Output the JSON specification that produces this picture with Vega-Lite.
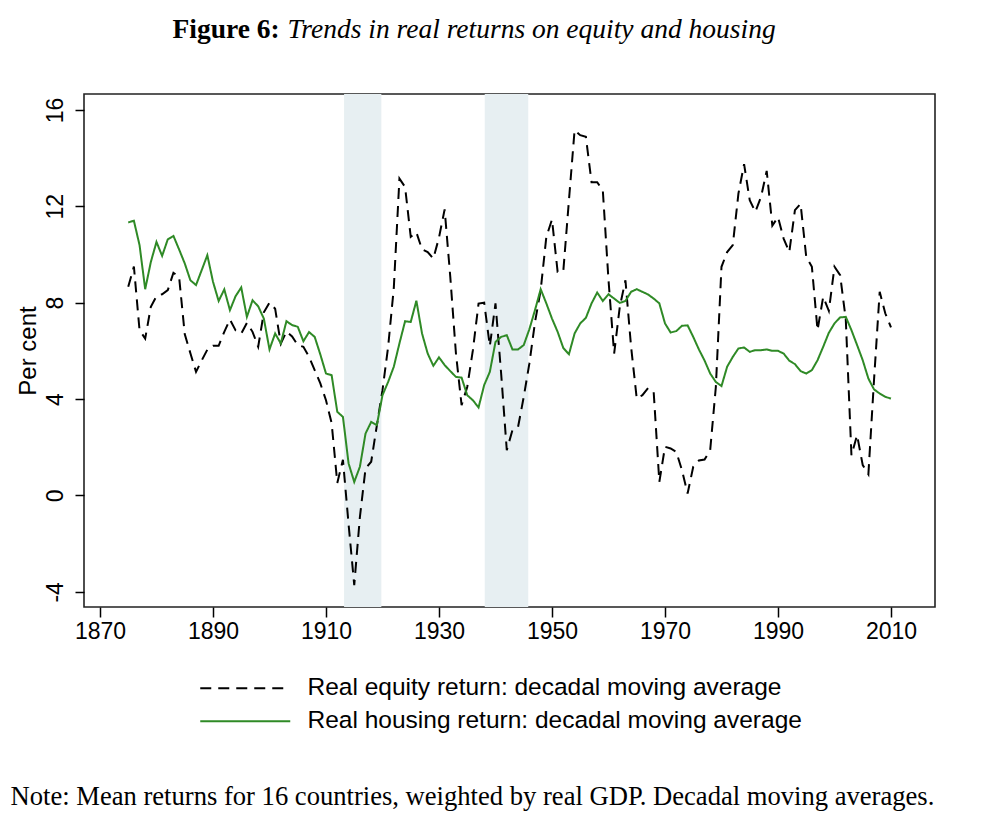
{
  "$schema": "https://vega.github.io/schema/vega-lite/v6.json",
  "autosize": {"type": "none"},
  "width": 851,
  "height": 513,
  "padding": {"left": 84, "top": 94, "right": 65, "bottom": 214},
  "background": "#ffffff",
  "config": {
    "view": {"stroke": "#222222", "strokeWidth": 1.6},
    "axis": {"grid": false, "domain": false}
  },
  "resolve": {"axis": {"x": "independent", "y": "independent"}},
  "layer": [
    {
      "data": {"values": [
        {"start": 1913.2, "end": 1919.8},
        {"start": 1938.1, "end": 1945.8}
      ]},
      "mark": {"type": "rect", "color": "#e7eff2"},
      "encoding": {
        "x": {"field": "start", "type": "quantitative",
          "scale": {"domain": [1867.17, 2017.79], "nice": false, "zero": false},
          "axis": {"orient": "top", "labels": false, "ticks": false, "domain": false,
            "title": "Trends in real returns on equity and housing",
            "titleFont": "Liberation Serif", "titleFontSize": 27.5, "titleFontStyle": "italic",
            "titleFontWeight": "normal", "titleColor": "#000000",
            "titleX": 203, "titleY": -57, "titleAngle": 0, "titleAlign": "left", "titleBaseline": "alphabetic"}},
        "x2": {"field": "end"}
      }
    },
    {
      "mark": {"type": "rule", "color": "#808080", "strokeWidth": 1.6, "strokeDash": [5, 3.5]},
      "encoding": {
        "y": {"datum": 0, "type": "quantitative",
          "scale": {"domain": [-4.63, 16.66], "nice": false, "zero": false},
          "axis": {"orient": "right", "labels": false, "ticks": false, "domain": false,
            "title": "Figure 6:",
            "titleFont": "Liberation Serif", "titleFontSize": 27.5, "titleFontWeight": "bold",
            "titleColor": "#000000",
            "titleX": -763, "titleY": -57, "titleAngle": 0, "titleAlign": "left", "titleBaseline": "alphabetic"}}
      }
    },
    {
      "data": {"values": [
        {"year": 1875, "equity": 8.66, "housing": 11.33},
        {"year": 1876, "equity": 9.5, "housing": 11.4},
        {"year": 1877, "equity": 6.86, "housing": 10.39},
        {"year": 1878, "equity": 6.51, "housing": 8.56},
        {"year": 1879, "equity": 7.83, "housing": 9.69},
        {"year": 1880, "equity": 8.27, "housing": 10.52},
        {"year": 1881, "equity": 8.35, "housing": 9.94},
        {"year": 1882, "equity": 8.52, "housing": 10.63},
        {"year": 1883, "equity": 9.24, "housing": 10.77},
        {"year": 1884, "equity": 9.07, "housing": 10.21},
        {"year": 1885, "equity": 6.7, "housing": 9.63},
        {"year": 1886, "equity": 5.9, "housing": 8.93},
        {"year": 1887, "equity": 5.13, "housing": 8.73},
        {"year": 1888, "equity": 5.6, "housing": 9.35},
        {"year": 1889, "equity": 6.05, "housing": 9.97},
        {"year": 1890, "equity": 6.21, "housing": 8.87},
        {"year": 1891, "equity": 6.21, "housing": 8.07},
        {"year": 1892, "equity": 6.79, "housing": 8.55},
        {"year": 1893, "equity": 7.3, "housing": 7.69},
        {"year": 1894, "equity": 6.85, "housing": 8.27},
        {"year": 1895, "equity": 6.72, "housing": 8.63},
        {"year": 1896, "equity": 7.16, "housing": 7.41},
        {"year": 1897, "equity": 6.79, "housing": 8.1},
        {"year": 1898, "equity": 6.17, "housing": 7.85},
        {"year": 1899, "equity": 7.6, "housing": 7.34},
        {"year": 1900, "equity": 8.0, "housing": 6.06},
        {"year": 1901, "equity": 7.75, "housing": 6.72},
        {"year": 1902, "equity": 6.3, "housing": 6.31},
        {"year": 1903, "equity": 6.8, "housing": 7.23},
        {"year": 1904, "equity": 6.6, "housing": 7.07},
        {"year": 1905, "equity": 6.24, "housing": 7.0},
        {"year": 1906, "equity": 6.17, "housing": 6.4},
        {"year": 1907, "equity": 5.75, "housing": 6.78},
        {"year": 1908, "equity": 5.2, "housing": 6.58},
        {"year": 1909, "equity": 4.65, "housing": 5.85},
        {"year": 1910, "equity": 3.95, "housing": 5.06},
        {"year": 1911, "equity": 3.0, "housing": 4.99},
        {"year": 1912, "equity": 0.52, "housing": 3.47},
        {"year": 1913, "equity": 1.48, "housing": 3.26},
        {"year": 1914, "equity": -1.2, "housing": 1.33},
        {"year": 1915, "equity": -3.72, "housing": 0.56},
        {"year": 1916, "equity": -0.9, "housing": 1.19},
        {"year": 1917, "equity": 1.12, "housing": 2.57},
        {"year": 1918, "equity": 1.4, "housing": 3.05},
        {"year": 1919, "equity": 2.9, "housing": 2.92},
        {"year": 1920, "equity": 4.37, "housing": 4.16},
        {"year": 1921, "equity": 6.17, "housing": 4.71},
        {"year": 1922, "equity": 8.6, "housing": 5.34},
        {"year": 1923, "equity": 13.15, "housing": 6.31},
        {"year": 1924, "equity": 12.8, "housing": 7.23},
        {"year": 1925, "equity": 10.73, "housing": 7.2},
        {"year": 1926, "equity": 10.92, "housing": 8.08},
        {"year": 1927, "equity": 10.21, "housing": 6.72},
        {"year": 1928, "equity": 10.1, "housing": 5.89},
        {"year": 1929, "equity": 9.83, "housing": 5.38},
        {"year": 1930, "equity": 10.7, "housing": 5.73},
        {"year": 1931, "equity": 11.87, "housing": 5.41},
        {"year": 1932, "equity": 9.07, "housing": 5.16},
        {"year": 1933, "equity": 5.89, "housing": 4.92},
        {"year": 1934, "equity": 3.75, "housing": 4.89},
        {"year": 1935, "equity": 4.5, "housing": 4.16},
        {"year": 1936, "equity": 6.03, "housing": 3.95},
        {"year": 1937, "equity": 7.96, "housing": 3.65},
        {"year": 1938, "equity": 8.0, "housing": 4.58},
        {"year": 1939, "equity": 6.2, "housing": 5.13},
        {"year": 1940, "equity": 7.97, "housing": 6.37},
        {"year": 1941, "equity": 5.06, "housing": 6.58},
        {"year": 1942, "equity": 1.88, "housing": 6.65},
        {"year": 1943, "equity": 2.71, "housing": 6.06},
        {"year": 1944, "equity": 2.85, "housing": 6.06},
        {"year": 1945, "equity": 4.09, "housing": 6.24},
        {"year": 1946, "equity": 5.48, "housing": 6.9},
        {"year": 1947, "equity": 7.2, "housing": 7.7},
        {"year": 1948, "equity": 8.52, "housing": 8.56},
        {"year": 1949, "equity": 10.73, "housing": 7.97},
        {"year": 1950, "equity": 11.45, "housing": 7.34},
        {"year": 1951, "equity": 9.28, "housing": 6.79},
        {"year": 1952, "equity": 9.3, "housing": 6.12},
        {"year": 1953, "equity": 12.25, "housing": 5.86},
        {"year": 1954, "equity": 15.16, "housing": 6.72},
        {"year": 1955, "equity": 14.95, "housing": 7.14},
        {"year": 1956, "equity": 14.88, "housing": 7.37},
        {"year": 1957, "equity": 13.0, "housing": 7.97},
        {"year": 1958, "equity": 13.0, "housing": 8.42},
        {"year": 1959, "equity": 12.65, "housing": 8.07},
        {"year": 1960, "equity": 8.95, "housing": 8.35},
        {"year": 1961, "equity": 5.89, "housing": 8.17},
        {"year": 1962, "equity": 7.83, "housing": 7.99},
        {"year": 1963, "equity": 8.93, "housing": 8.07},
        {"year": 1964, "equity": 6.17, "housing": 8.45},
        {"year": 1965, "equity": 4.02, "housing": 8.56},
        {"year": 1966, "equity": 4.16, "housing": 8.45},
        {"year": 1967, "equity": 4.45, "housing": 8.34},
        {"year": 1968, "equity": 4.29, "housing": 8.17},
        {"year": 1969, "equity": 0.56, "housing": 7.97},
        {"year": 1970, "equity": 2.02, "housing": 7.14},
        {"year": 1971, "equity": 1.95, "housing": 6.76},
        {"year": 1972, "equity": 1.81, "housing": 6.82},
        {"year": 1973, "equity": 1.05, "housing": 7.04},
        {"year": 1974, "equity": 0.08, "housing": 7.06},
        {"year": 1975, "equity": 1.19, "housing": 6.58},
        {"year": 1976, "equity": 1.45, "housing": 6.06},
        {"year": 1977, "equity": 1.49, "housing": 5.6},
        {"year": 1978, "equity": 1.88, "housing": 5.06},
        {"year": 1979, "equity": 4.5, "housing": 4.71},
        {"year": 1980, "equity": 9.49, "housing": 4.54},
        {"year": 1981, "equity": 10.1, "housing": 5.34},
        {"year": 1982, "equity": 10.39, "housing": 5.75},
        {"year": 1983, "equity": 12.53, "housing": 6.1},
        {"year": 1984, "equity": 13.75, "housing": 6.14},
        {"year": 1985, "equity": 12.25, "housing": 5.96},
        {"year": 1986, "equity": 11.77, "housing": 6.03},
        {"year": 1987, "equity": 12.39, "housing": 6.03},
        {"year": 1988, "equity": 13.47, "housing": 6.06},
        {"year": 1989, "equity": 11.2, "housing": 6.0},
        {"year": 1990, "equity": 11.55, "housing": 6.0},
        {"year": 1991, "equity": 10.66, "housing": 5.89},
        {"year": 1992, "equity": 10.1, "housing": 5.59},
        {"year": 1993, "equity": 11.84, "housing": 5.45},
        {"year": 1994, "equity": 12.1, "housing": 5.16},
        {"year": 1995, "equity": 9.9, "housing": 5.06},
        {"year": 1996, "equity": 9.49, "housing": 5.2},
        {"year": 1997, "equity": 6.86, "housing": 5.61},
        {"year": 1998, "equity": 8.24, "housing": 6.17},
        {"year": 1999, "equity": 7.66, "housing": 6.75},
        {"year": 2000, "equity": 9.49, "housing": 7.14},
        {"year": 2001, "equity": 9.14, "housing": 7.39},
        {"year": 2002, "equity": 7.3, "housing": 7.41},
        {"year": 2003, "equity": 1.67, "housing": 6.86},
        {"year": 2004, "equity": 2.5, "housing": 6.24},
        {"year": 2005, "equity": 1.26, "housing": 5.61},
        {"year": 2006, "equity": 0.88, "housing": 4.85},
        {"year": 2007, "equity": 4.8, "housing": 4.4},
        {"year": 2008, "equity": 8.45, "housing": 4.23},
        {"year": 2009, "equity": 7.55, "housing": 4.09},
        {"year": 2010, "equity": 6.97, "housing": 4.02}
      ]},
      "transform": [{"fold": ["equity", "housing"], "as": ["series", "value"]}],
      "mark": {"type": "line", "strokeWidth": 2},
      "encoding": {
        "x": {"field": "year", "type": "quantitative",
          "scale": {"domain": [1867.17, 2017.79], "nice": false, "zero": false},
          "axis": {"orient": "bottom", "values": [1870, 1890, 1910, 1930, 1950, 1970, 1990, 2010],
            "format": "d", "labelFlush": false, "labelOverlap": false,
            "tickSize": 10, "tickWidth": 1.5, "tickColor": "#000000",
            "labelFont": "Liberation Sans", "labelFontSize": 23, "labelColor": "#000000",
            "labelBaseline": "alphabetic", "labelPadding": 21,
            "title": "Note: Mean returns for 16 countries, weighted by real GDP. Decadal moving averages.",
            "titleFont": "Liberation Serif", "titleFontSize": 26.6, "titleFontWeight": "normal",
            "titleColor": "#000000", "titleX": -74, "titleY": 197, "titleAngle": 0,
            "titleAlign": "left", "titleBaseline": "alphabetic"}},
        "y": {"field": "value", "type": "quantitative",
          "scale": {"domain": [-4.63, 16.66], "nice": false, "zero": false},
          "axis": {"orient": "left", "values": [-4, 0, 4, 8, 12, 16],
            "labelExpr": "'' + datum.value",
            "labelFlush": false, "labelOverlap": false,
            "tickSize": 9, "tickWidth": 1.5, "tickColor": "#000000",
            "labelFont": "Liberation Sans", "labelFontSize": 23, "labelColor": "#000000",
            "labelAngle": -90, "labelAlign": "center", "labelBaseline": "alphabetic", "labelPadding": 13,
            "title": "Per cent", "titleFont": "Liberation Sans", "titleFontSize": 24,
            "titleFontWeight": "normal", "titleColor": "#000000",
            "titleX": -49, "titleY": 256.5, "titleAngle": -90, "titleAlign": "center", "titleBaseline": "alphabetic"}},
        "color": {"field": "series", "type": "nominal",
          "scale": {"domain": ["equity", "housing"], "range": ["#000000", "#2f8a26"]},
          "legend": {"orient": "none", "legendX": 149, "legendY": 582, "direction": "vertical",
            "title": null, "symbolType": "M-4.5,0H4.5", "symbolSize": 400, "symbolStrokeWidth": 2,
            "labelFont": "Liberation Sans", "labelFontSize": 24.5, "labelColor": "#000000",
            "labelOffset": 50, "padding": 0, "labelLimit": 0, "rowPadding": 8,
            "labelExpr": "datum.label == 'equity' ? 'Real equity return: decadal moving average' : 'Real housing return: decadal moving average'"}},
        "strokeDash": {"field": "series", "type": "nominal",
          "scale": {"domain": ["equity", "housing"], "range": [[11, 7], [1, 0]]}}
      }
    }
  ]
}
